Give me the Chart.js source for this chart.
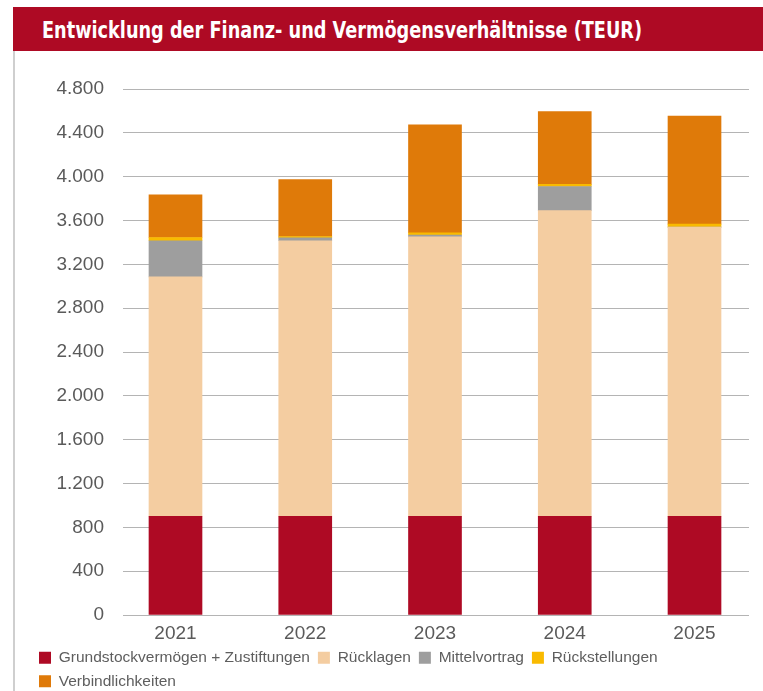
<!DOCTYPE html>
<html lang="de">
<head>
<meta charset="utf-8">
<script src="https://cdn.jsdelivr.net/npm/chart.js@4.4.1/dist/chart.umd.min.js"></script>
<style>
  html, body { margin: 0; padding: 0; background: #ffffff; overflow: hidden; }
  body { width: 763px; height: 691px; position: relative; }
  #band { position: absolute; left: 13px; top: 7px; width: 750px; height: 44px; background: #ae0a24; z-index: 2; }
  #title { position: absolute; left: 28.5px; top: 10px; color: #ffffff; font-family: "Liberation Sans Narrow", "DejaVu Sans Condensed", sans-serif; font-weight: bold; font-size: 23px; line-height: normal; white-space: nowrap; transform-origin: 0 0; }
  #rule { position: absolute; left: 13px; top: 51px; width: 2px; height: 640px; background: #cfcfcf; z-index: 1; }
  #wrap { position: absolute; left: 0; top: 0; width: 763px; height: 700px; }
</style>
</head>
<body>
<div id="band"><span id="title">Entwicklung der Finanz- und Vermögensverhältnisse (TEUR)</span></div>
<div id="rule"></div>
<div id="wrap"><canvas id="c"></canvas></div>
<script>
// ---- data ----
const years = [2021, 2022, 2023, 2024, 2025];
const grundstock = [900, 900, 900, 900, 900];
const ruecklagen = [2185, 2515, 2550, 2790, 2640];
const mittelvortrag = [330, 27, 18, 220, 0];
const rueckstellungen = [30, 12, 20, 20, 27];
const verbindlichkeiten = [390, 520, 985, 665, 985];
const seriesNames = ["Grundstockvermögen + Zustiftungen", "Rücklagen", "Mittelvortrag", "Rückstellungen", "Verbindlichkeiten"];
const yTickValues = [0, 400, 800, 1200, 1600, 2000, 2400, 2800, 3200, 3600, 4000, 4400, 4800];

// fit the title to its measured width in the reference
(function () {
  const t = document.getElementById('title');
  const w = t.getBoundingClientRect().width;
  t.style.transform = 'scaleX(' + (600 / w) + ')';
})();

const colors = ['#ae0a24', '#f4cda1', '#9e9e9e', '#f9ba00', '#df7a09'];
const seriesValues = [grundstock, ruecklagen, mittelvortrag, rueckstellungen, verbindlichkeiten];

function fmt(v) {
  return String(v).replace(/\B(?=(\d{3})+(?!\d))/g, '.');
}

const datasets = seriesValues.map((vals, i) => ({
  label: seriesNames[i],
  data: vals.map((v, j) => ({ x: years[j], y: v })),
  backgroundColor: colors[i],
  borderWidth: 0,
  barThickness: 53
}));

const tickFont = { family: '"Liberation Sans", Arial, sans-serif', size: 19 };

new Chart(document.getElementById('c'), {
  type: 'bar',
  data: { datasets },
  options: {
    responsive: true,
    maintainAspectRatio: false,
    animation: false,
    layout: { padding: { top: 89, left: 31, right: 14, bottom: 1 } },
    plugins: {
      tooltip: { enabled: false },
      legend: {
        position: 'bottom',
        align: 'start',
        labels: {
          boxWidth: 12,
          boxHeight: 12,
          padding: 8,
          color: '#5e5e5e',
          font: { family: '"Liberation Sans", Arial, sans-serif', size: 15.5 }
        }
      }
    },
    scales: {
      x: {
        type: 'linear',
        stacked: true,
        offset: false,
        min: 2020.5954,
        max: 2025.42,
        grid: { display: false, drawTicks: false },
        border: { display: false },
        ticks: {
          stepSize: 1,
          includeBounds: false,
          padding: 7,
          color: '#5a5a5a',
          font: tickFont,
          callback: v => String(v)
        },
        afterFit: s => { s.height = 27; }
      },
      y: {
        stacked: true,
        min: 0,
        max: 4800,
        grid: { color: '#b4b4b4', lineWidth: 1, drawTicks: false },
        border: { display: false },
        ticks: {
          padding: 19,
          color: '#5a5a5a',
          font: tickFont,
          callback: v => fmt(v)
        },
        afterBuildTicks: s => { s.ticks = yTickValues.map(v => ({ value: v })); },
        afterFit: s => { s.width = 92; }
      }
    }
  }
});
</script>
</body>
</html>
